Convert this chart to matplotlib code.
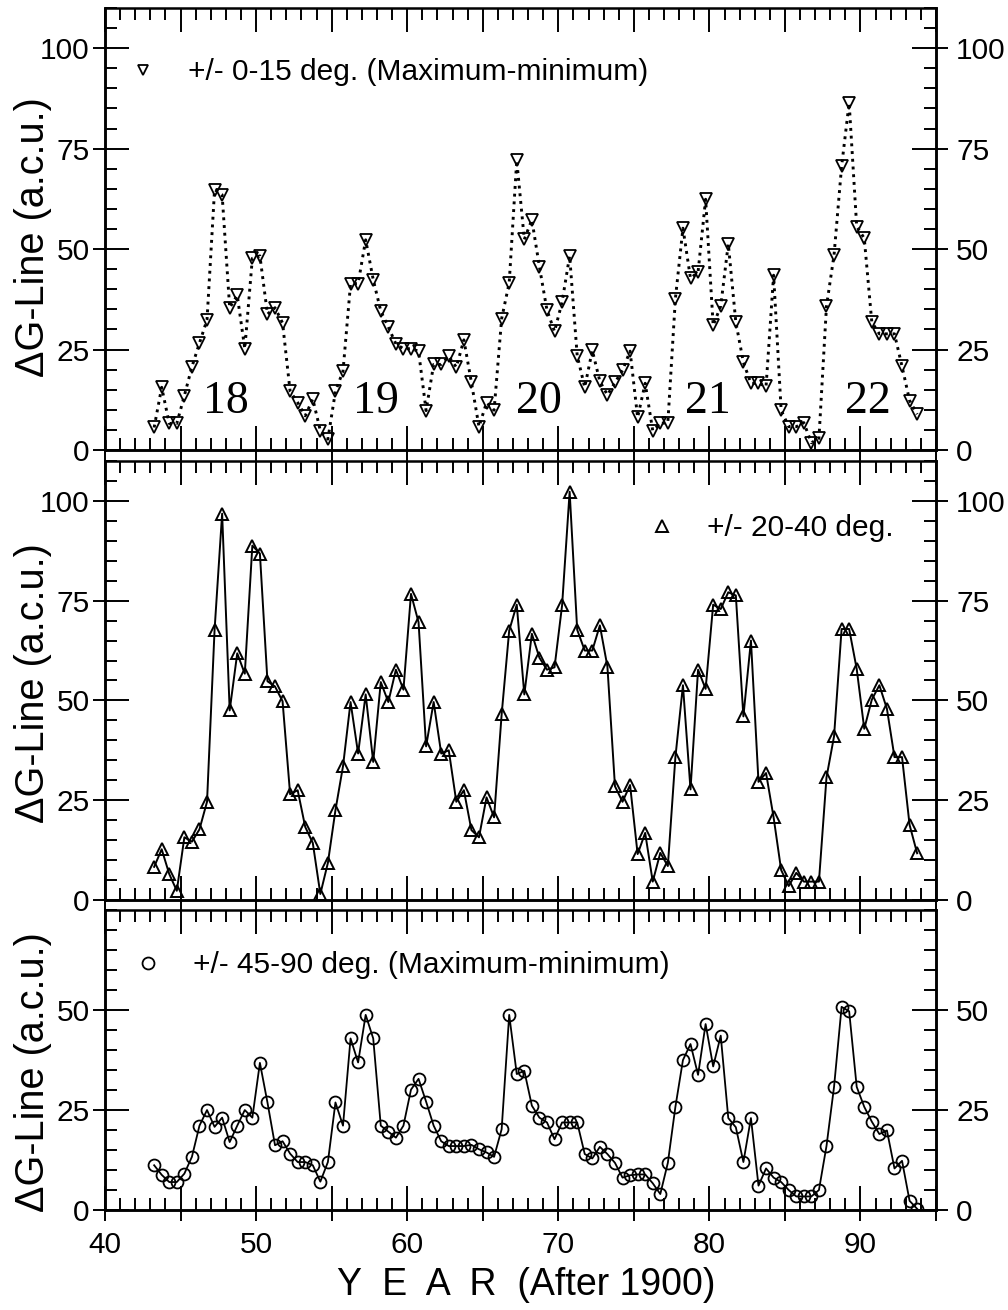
"""Three stacked panels of Delta G-line activity against year, one per latitude band
"""

import matplotlib
matplotlib.use('Agg')
import matplotlib.pyplot as plt
from matplotlib.ticker import MultipleLocator, FixedLocator

plt.rcParams['font.family'] = ['Liberation Sans', 'DejaVu Sans']

# half-year samples
YEARS = [43.25, 43.75, 44.25, 44.75, 45.25, 45.75, 46.25, 46.75, 47.25, 47.75,
         48.25, 48.75, 49.25, 49.75, 50.25, 50.75, 51.25, 51.75, 52.25, 52.75,
         53.25, 53.75, 54.25, 54.75, 55.25, 55.75, 56.25, 56.75, 57.25, 57.75,
         58.25, 58.75, 59.25, 59.75, 60.25, 60.75, 61.25, 61.75, 62.25, 62.75,
         63.25, 63.75, 64.25, 64.75, 65.25, 65.75, 66.25, 66.75, 67.25, 67.75,
         68.25, 68.75, 69.25, 69.75, 70.25, 70.75, 71.25, 71.75, 72.25, 72.75,
         73.25, 73.75, 74.25, 74.75, 75.25, 75.75, 76.25, 76.75, 77.25, 77.75,
         78.25, 78.75, 79.25, 79.75, 80.25, 80.75, 81.25, 81.75, 82.25, 82.75,
         83.25, 83.75, 84.25, 84.75, 85.25, 85.75, 86.25, 86.75, 87.25, 87.75,
         88.25, 88.75, 89.25, 89.75, 90.25, 90.75, 91.25, 91.75, 92.25, 92.75,
         93.25, 93.75]

# +/- 0-15 deg. (maximum-minimum)
LOW_LAT = [5.6, 15.6, 6.6, 6.6, 13.5, 20.7, 26.6, 32.4, 64.8, 63.5,
           35.4, 38.5, 25.2, 47.7, 48.3, 33.8, 35.4, 31.6, 14.6, 11.8,
           8.5, 12.7, 4.8, 2.7, 14.6, 19.6, 41.4, 41.4, 52.3, 42.4,
           34.6, 30.6, 26.4, 25.2, 25.2, 24.6, 9.8, 21.3, 21.3, 23.3,
           20.6, 27.4, 16.8, 5.8, 11.8, 9.9, 32.7, 41.6, 72.1, 52.4,
           57.3, 45.6, 34.8, 29.5, 36.8, 48.3, 23.5, 15.6, 24.8, 17.1,
           13.7, 16.8, 19.8, 24.6, 8.1, 16.6, 4.8, 6.6, 6.8, 37.7,
           55.2, 42.7, 44.3, 62.4, 31.0, 35.8, 51.3, 31.8, 21.8, 16.6,
           16.6, 15.8, 43.5, 9.9, 5.8, 5.8, 6.8, 1.8, 2.9, 35.8,
           48.5, 70.6, 86.4, 55.6, 52.7, 31.8, 28.9, 28.9, 28.9, 20.8,
           12.3, 8.9]

# +/- 20-40 deg.
MID_LAT = [8.3, 12.7, 6.5, 2.3, 15.7, 14.6, 17.7, 24.6, 67.7, 96.8,
           47.5, 61.8, 56.7, 88.8, 86.8, 54.8, 53.5, 49.8, 26.5, 27.5,
           18.3, 14.3, 1.5, 9.3, 22.5, 33.5, 49.6, 36.7, 51.5, 34.6,
           54.6, 49.6, 57.7, 52.7, 76.7, 69.6, 38.5, 49.6, 36.7, 37.5,
           24.6, 27.5, 17.5, 15.7, 25.7, 20.7, 46.5, 67.5, 74.0, 51.5,
           66.7, 60.7, 57.7, 58.3, 73.8, 102.3, 67.7, 62.5, 62.5, 68.8,
           58.5, 28.5, 24.6, 28.8, 11.5, 16.8, 4.6, 11.8, 8.5, 35.8,
           53.8, 27.7, 57.7, 52.9, 74.0, 72.9, 77.1, 76.3, 46.0, 65.0,
           29.6, 31.8, 20.7, 7.5, 3.5, 6.8, 4.6, 4.6, 4.6, 30.7,
           41.0, 67.9, 67.9, 57.9, 42.9, 50.2, 53.8, 47.9, 35.8, 35.8,
           18.8, 11.7]

# +/- 45-90 deg. (maximum-minimum)
HIGH_LAT = [11.2, 8.8, 7.0, 7.0, 9.1, 13.3, 21.1, 25.0, 20.8, 23.1,
            17.0, 21.1, 25.0, 23.1, 36.8, 26.9, 16.2, 17.2, 14.1, 12.0,
            12.0, 11.2, 7.1, 12.0, 26.9, 21.1, 42.9, 36.9, 48.8, 42.9,
            21.1, 19.6, 18.1, 21.1, 30.1, 32.8, 27.1, 21.1, 17.2, 16.0,
            16.0, 16.0, 16.3, 15.2, 14.4, 13.3, 20.2, 48.8, 34.0, 34.8,
            26.1, 23.1, 21.9, 17.7, 21.9, 21.9, 21.9, 14.0, 12.9, 15.8,
            14.0, 11.8, 8.1, 8.7, 8.9, 8.9, 6.7, 4.0, 11.8, 25.8,
            37.5, 41.5, 33.8, 46.5, 35.9, 43.6, 23.0, 20.7, 12.0, 23.0,
            6.1, 10.4, 8.1, 7.0, 5.0, 3.4, 3.4, 3.4, 5.0, 16.0,
            30.8, 50.8, 49.7, 30.8, 25.8, 22.1, 19.0, 19.9, 10.4, 12.3,
            2.3, 0.3]

CYCLE_NAMES = ['18', '19', '20', '21', '22']
CYCLE_YEARS = [48.0, 57.9, 68.7, 79.9, 90.5]

X_TICKS = [40, 45, 50, 55, 60, 65, 70, 75, 80, 85, 90, 95]
X_TICK_LABELS = ['40', '', '50', '', '60', '', '70', '', '80', '', '90', '']

TICK_SIZE = 21.5
LEGEND_SIZE = 21.5


def style_panel(ax, ymax, yticks, show_years=False):
    """Inward ticks on all four sides, majors poke out where the labels are"""
    ax.set_xlim(40, 95)
    ax.set_ylim(0, ymax)
    ax.xaxis.set_major_locator(MultipleLocator(5))
    ax.xaxis.set_minor_locator(MultipleLocator(1))
    ax.yaxis.set_major_locator(FixedLocator(yticks))
    ax.yaxis.set_minor_locator(MultipleLocator(5))
    ax.tick_params(which='both', direction='in', top=True, bottom=True,
                   left=True, right=True, labelleft=False, labelbottom=False,
                   width=1.4)
    ax.tick_params(which='major', length=17)
    ax.tick_params(which='minor', length=8.5)
    for spine in ax.spines.values():
        spine.set_linewidth(1.8)

    for side, pad in (('left', 2.5), ('right', 6)):
        sec = ax.secondary_yaxis(side)
        sec.set_yticks(yticks)
        sec.tick_params(direction='out', length=8.5, width=1.4, pad=pad,
                        labelsize=TICK_SIZE)
        sec.spines[side].set_linewidth(1.8)

    sec = ax.secondary_xaxis('bottom')
    sec.set_xticks(X_TICKS, labels=X_TICK_LABELS)
    sec.tick_params(direction='out', length=8, width=1.4, pad=7,
                    labelsize=TICK_SIZE, labelbottom=show_years)
    sec.spines['bottom'].set_linewidth(1.8)


def add_key(ax, line, text, xy, scale=1.0):
    ax.legend([line], [text], loc='center left', bbox_to_anchor=xy,
              frameon=False, handlelength=0, handletextpad=1.5,
              borderpad=0, borderaxespad=0, fontsize=LEGEND_SIZE,
              markerscale=scale)


def main(image_file_name):
    fig = plt.figure(figsize=(10.08, 13.10), dpi=100)
    left, width = 0.1042, 0.8244
    ax1 = fig.add_axes([left, 0.6565, width, 0.3374])
    ax2 = fig.add_axes([left, 0.3130, width, 0.3351])
    ax3 = fig.add_axes([left, 0.0763, width, 0.2290])

    line1, = ax1.plot(YEARS, LOW_LAT, ls=':', lw=2.1, color='black',
                      marker='v', ms=8, mfc='none', mec='black', mew=1.3)
    line2, = ax2.plot(YEARS, MID_LAT, ls='-', lw=1.4, color='black',
                      marker='^', ms=9, mfc='none', mec='black', mew=1.4)
    line3, = ax3.plot(YEARS, HIGH_LAT, ls='-', lw=1.3, color='black',
                      marker='o', ms=8.6, mfc='none', mec='black', mew=1.3)

    style_panel(ax1, 110, [0, 25, 50, 75, 100])
    style_panel(ax2, 110, [0, 25, 50, 75, 100])
    style_panel(ax3, 75, [0, 25, 50], show_years=True)

    add_key(ax1, line1, '+/- 0-15 deg. (Maximum-minimum)', (0.0457, 0.855), 0.95)
    add_key(ax2, line2, '+/- 20-40 deg.', (0.670, 0.847), 0.95)
    add_key(ax3, line3, '+/- 45-90 deg. (Maximum-minimum)', (0.052, 0.817), 1.0)

    for name, year in zip(CYCLE_NAMES, CYCLE_YEARS):
        ax1.text(year, 12.0, name, ha='center', va='center',
                 family='Liberation Serif', fontsize=33)

    for y_center in (237, 683, 1072):
        fig.text(33 / 1008, 1 - y_center / 1310, '\u0394G-Line (a.c.u.)',
                 rotation=90, ha='center', va='center', fontsize=28.5)

    fig.text(526 / 1008, 1 - 1285 / 1310, 'Y  E  A  R  (After 1900)',
             ha='center', va='center', fontsize=27)

    fig.savefig(image_file_name, dpi=100)


if __name__ == '__main__':
    main('out.png')
